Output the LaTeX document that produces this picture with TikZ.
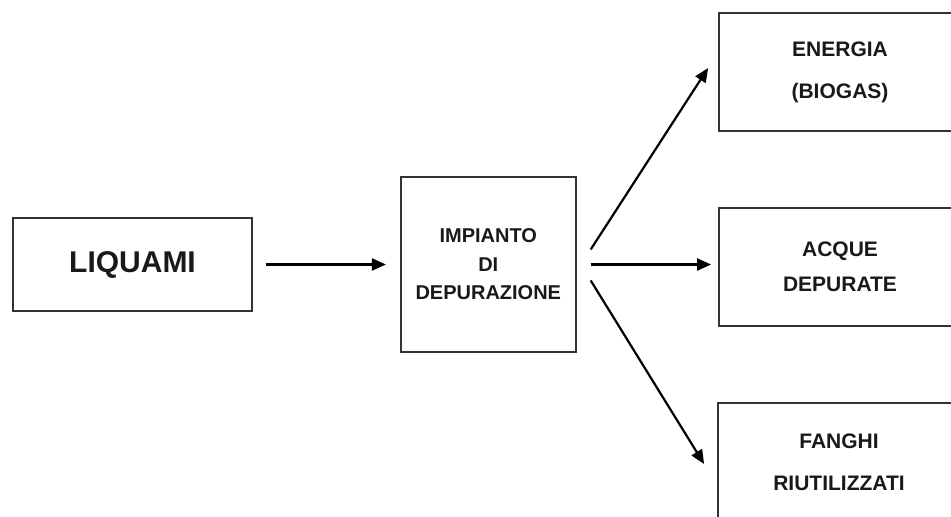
\documentclass[tikz,border=0pt]{standalone}
\usepackage{fontspec}
\setmainfont{Liberation Sans}
\usepackage{tikz}
\usetikzlibrary{arrows.meta,calc,positioning}

\begin{document}
\begin{tikzpicture}[
      x=1pt, y=1pt,
      box/.style={draw=black!80, line width=1.8pt, inner sep=0pt,
        align=center, text=black!90, font=\bfseries},
      output/.style={box, minimum width=242pt, minimum height=118pt},
      arrow/.style={-{Triangle[length=14pt, width=12pt]}, line width=2.2pt, draw=black}
    ]
    \useasboundingbox (0,0) rectangle (951,517);
    \clip (0,0) rectangle (951,517);

    \node[box, minimum width=239pt, minimum height=93pt,
      font=\bfseries\fontsize{30}{36}\selectfont] (liquami) at (132.5,252.5) {LIQUAMI};
    \node[box, minimum width=175pt, minimum height=175pt,
      font=\bfseries\fontsize{20}{28.5}\selectfont, right=147pt of liquami] (impianto)
      {IMPIANTO\\DI\\DEPURAZIONE};

    \node[output, font=\bfseries\fontsize{21}{42}\selectfont] (energia) at (840,445)
      {ENERGIA\\(BIOGAS)};
    \node[output, font=\bfseries\fontsize{21}{35}\selectfont] (acque) at (840,250)
      {ACQUE\\DEPURATE};
    \node[output, font=\bfseries\fontsize{21}{42}\selectfont] (fanghi) at (839,55)
      {FANGHI\\RIUTILIZZATI};

    \draw[arrow, shorten <=13pt, shorten >=14pt] (liquami) -- (impianto);
    \draw[arrow] ([xshift=14pt, yshift=15pt]impianto.east) -- ([xshift=-10pt, yshift=4pt]energia.west);
    \draw[arrow] ([xshift=14pt]impianto.east) -- ($(impianto.east -| acque.west)+(-7,0)$);
    \draw[arrow] ([xshift=14pt, yshift=-16pt]impianto.east) -- ([xshift=-13pt, yshift=-2pt]fanghi.west);
  \end{tikzpicture}
\end{document}
